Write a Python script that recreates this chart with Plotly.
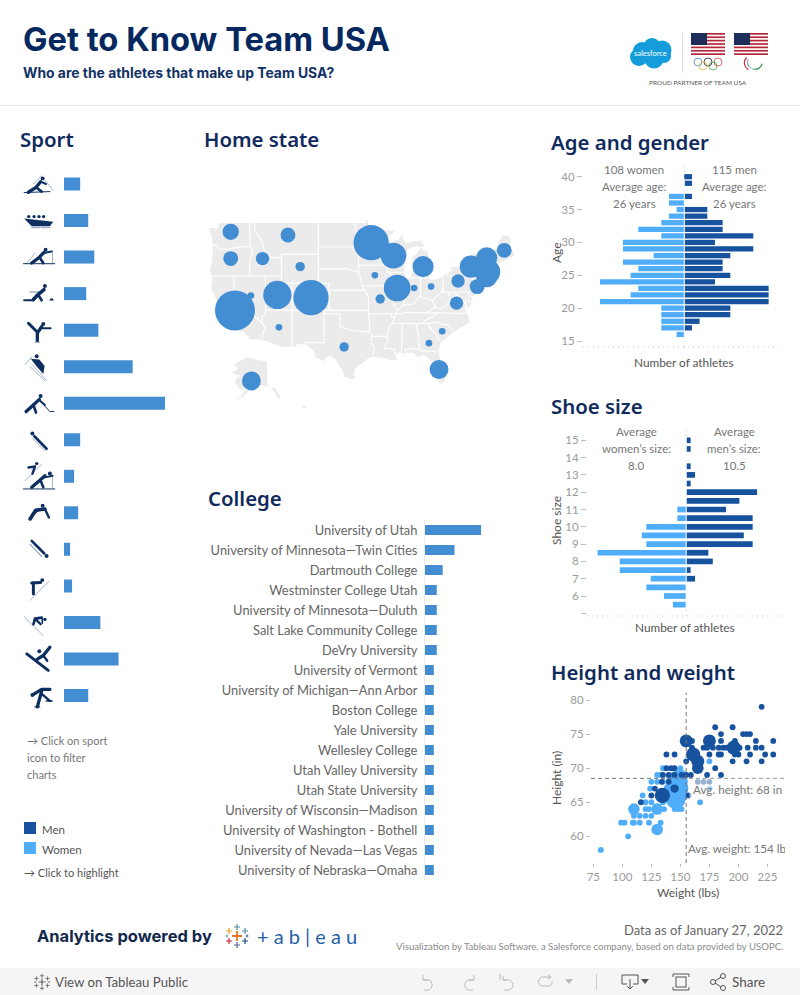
import base64
import math
import numpy as np
import plotly.graph_objects as go

W, H = 800, 995

# ---------- DATA ----------
SPORTS = ["Biathlon", "Bobsled", "Cross-country", "Curling", "Figure skating", "Alpine skiing", "Ice hockey",
          "Luge", "Nordic combined", "Short track", "Skeleton", "Ski jumping", "Freestyle skiing", "Snowboarding",
          "Speed skating"]
SPORT_COUNTS = [8, 12, 15, 11, 17, 34, 50, 8, 5, 7, 3, 4, 18, 27, 12]

COLLEGES = ["University of Utah", "University of Minnesota—Twin Cities", "Dartmouth College",
            "Westminster College Utah", "University of Minnesota—Duluth", "Salt Lake Community College",
            "DeVry University", "University of Vermont", "University of Michigan—Ann Arbor", "Boston College",
            "Yale University", "Wellesley College", "Utah Valley University", "Utah State University",
            "University of Wisconsin—Madison", "University of Washington - Bothell",
            "University of Nevada—Las Vegas", "University of Nebraska—Omaha"]
COLLEGE_COUNTS = [19, 10, 6, 4, 4, 4, 4, 3, 3, 3, 3, 3, 3, 3, 3, 3, 3, 3]

AGES = [40, 39, 37, 36, 35, 34, 33, 32, 31, 30, 29, 28, 27, 26, 25, 24, 23, 22, 21, 20, 19, 18, 17, 16]
AGE_MEN = [1, 1, 1, 0, 3, 3, 5, 5, 9, 4, 9, 6, 5, 5, 6, 4, 11, 11, 11, 6, 6, 2, 1, 0]
AGE_WOMEN = [0, 0, 2, 2, 1, 2, 3, 6, 3, 8, 8, 4, 8, 6, 7, 11, 6, 7, 11, 3, 3, 3, 3, 1]
AGE_TICKS = [15, 20, 25, 30, 35, 40]

SHOES = [15, 14.5, 13.5, 13, 12.5, 12, 11.5, 11, 10.5, 10, 9.5, 9, 8.5, 8, 7.5, 7, 6.5, 6, 5.5]
SHOE_MEN = [1, 1, 1, 2, 1, 16, 12, 9, 15, 15, 13, 15, 5, 6, 1, 2, 0, 0, 0]
SHOE_WOMEN = [0, 0, 0, 0, 0, 0, 0, 2, 2, 9, 10, 9, 20, 15, 15, 8, 9, 5, 3]
SHOE_TICKS = [5, 6, 7, 8, 9, 10, 11, 12, 13, 14, 15]
SHOE_TICKTEXT = ["", "6", "7", "8", "9", "10", "11", "12", "13", "14", "15"]

WOMEN_W = [81.5, 105, 130, 99, 102, 109, 110, 115, 123, 133, 110, 115, 120, 125, 110, 120, 123, 130, 136, 145, 148, 151,
           120, 125, 135, 142, 167, 117.5, 124, 141, 125, 130, 135, 130, 133, 135, 150, 175, 175, 147, 149, 146, 143,
           150, 152, 140]
WOMEN_H = [58, 60, 61, 62, 62, 62, 62, 62, 62, 62, 63, 63, 63, 63, 64, 64, 64, 64, 64, 64, 64, 64,
           65, 65, 65, 65, 65, 66, 67, 67, 68, 68, 68, 69, 69, 70, 70, 71, 67, 68, 67, 65.5, 66,
           69, 66, 67]
WOMEN_N = [1, 1, 4, 1, 1, 1, 1, 1, 1, 1, 1, 1, 1, 1, 4, 1, 1, 4, 1, 1, 1, 1,
           1, 1, 1, 1, 1, 1, 1, 1, 1, 1, 1, 1, 1, 1, 1, 1, 1, 14, 10, 12, 6,
           4, 3, 3]

MEN_W = [220, 180, 195, 185, 204, 207, 210, 155, 175, 160, 185, 197, 215, 230, 160, 170, 173, 178, 183, 187, 190, 196,
         201, 208, 215, 220, 138, 145, 161, 175, 183, 185, 197, 200, 210, 223, 230, 155, 165, 195, 207, 220, 165, 138,
         142, 145, 180, 135, 140, 145, 151, 155, 159, 173, 185, 134, 140, 165, 170, 175, 128, 145, 134.5, 125, 157, 116]
MEN_H = [79, 76, 76, 75, 75, 75, 75, 74, 74, 74, 74, 74, 74, 74, 73, 73, 73, 73, 73, 73, 73, 73,
         73, 73, 73, 73, 72, 72, 72, 72, 72, 72, 72, 72, 72, 72, 72, 71, 71, 71, 71, 71, 70, 70,
         70, 70, 70, 69, 69, 69, 69, 69, 69, 69, 69, 68, 68, 68, 68, 68, 67, 67, 66, 66, 66, 65]
MEN_N = [1, 1, 1, 1, 1, 1, 1, 5, 5, 1, 1, 1, 1, 1, 1, 1, 1, 1, 1, 1, 1, 6,
         1, 1, 1, 1, 1, 1, 6, 1, 1, 1, 1, 1, 1, 1, 1, 1, 5, 1, 1, 1, 4, 1,
         1, 1, 1, 1, 1, 1, 1, 1, 1, 1, 1, 1, 1, 1, 1, 1, 1, 2, 7, 1, 1, 1]

WEIGHT_TICKS = [75, 100, 125, 150, 175, 200, 225]
HEIGHT_TICKS = [60, 65, 70, 75, 80]
AVG_WEIGHT = 155
AVG_HEIGHT = 68.5

STATES = ["WA", "OR", "ID", "MT", "WY", "CA", "NV", "UT", "CO", "AZ", "TX", "MN", "WI", "MI", "IA", "IL", "MO", "IN",
          "OH", "PA", "VA", "NY", "VT", "MA", "CT", "NJ", "ME", "SC", "GA", "FL"]
STATE_LON = [-120.6, -120.6, -114.6, -109.8, -107.5, -119.8, -116.8, -111.8, -105.45, -111.5, -99.2, -94.1, -89.9, -84.3,
             -93.4, -89.2, -92.4, -86.0, -82.8, -77.7, -78.0, -75.3, -72.3, -72.1, -72.3, -74.1, -69.0, -80.7, -83.2, -81.3]
STATE_LAT = [47.9, 44.4, 44.4, 47.5, 43.3, 37.0, 39.2, 39.3, 38.9, 34.4, 31.3, 46.5, 44.8, 43.3,
             42.1, 40.3, 38.7, 40.3, 40.5, 41.3, 38.1, 43.3, 44.5, 42.6, 41.9, 40.5, 45.5, 33.8, 31.9, 27.6]
STATE_COUNTS = [6, 5, 4, 5, 2, 36, 1, 18, 28, 1, 2, 28, 15, 10, 1, 16, 2, 1, 1, 4, 4, 11, 10, 14, 10, 5, 5, 1, 1, 8]
AK_LON, AK_LAT, AK_COUNT = [-153], [62], [8]

US_OUTLINE = [(-124.7,48.4),(-123.0,48.3),(-122.8,49.0),(-95.15,49.0),(-95.15,49.38),(-94.8,49.3),(-94.6,48.7),(-93.0,48.6),
 (-91.5,48.1),(-89.6,48.0),(-90.8,47.3),(-92.1,46.75),(-90.8,46.9),(-90.4,46.55),(-89.0,46.9),(-88.4,47.4),(-87.9,47.47),
 (-88.2,46.95),(-87.4,46.5),(-86.0,46.65),(-85.0,46.75),(-84.4,46.5),(-84.1,46.0),(-84.7,45.95),(-85.5,46.08),(-86.5,45.85),
 (-87.0,45.7),(-87.6,45.1),(-88.0,44.55),(-87.3,45.2),(-87.5,44.3),(-87.9,43.0),(-87.8,42.3),(-87.5,41.7),(-87.0,41.67),
 (-86.5,42.1),(-86.2,43.0),(-86.5,43.7),(-86.2,44.7),(-85.6,45.0),(-85.0,45.6),(-84.75,45.78),(-83.4,45.2),(-83.3,44.3),
 (-83.9,43.7),(-83.0,44.05),(-82.45,43.0),(-83.1,42.2),(-83.4,41.7),(-82.7,41.5),(-81.7,41.5),(-80.5,41.98),(-79.0,42.7),
 (-78.9,42.9),(-79.05,43.27),(-77.5,43.27),(-76.4,43.5),(-76.2,44.0),(-75.3,44.85),(-74.7,45.0),(-71.5,45.0),(-71.3,45.3),
 (-70.4,45.75),(-70.0,46.7),(-69.2,47.45),(-68.3,47.35),(-67.8,47.05),(-67.8,45.7),(-67.0,44.85),(-68.5,44.3),(-70.0,43.75),
 (-70.7,43.05),(-70.8,42.6),(-71.0,42.3),(-70.6,41.95),(-70.0,41.8),(-70.0,41.6),(-71.2,41.5),(-72.0,41.3),(-73.6,41.0),
 (-72.0,41.05),(-73.9,40.6),(-74.0,40.4),(-74.1,39.7),(-74.9,38.95),(-75.5,39.5),(-75.1,38.8),(-75.2,38.0),(-75.95,37.15),
 (-76.1,38.0),(-76.4,39.1),(-76.4,38.0),(-76.3,37.0),(-75.95,36.6),(-75.5,35.25),(-76.5,34.7),(-77.9,33.9),(-79.0,33.4),
 (-80.0,32.6),(-81.0,32.0),(-81.4,30.7),(-81.3,29.9),(-80.6,28.4),(-80.0,26.8),(-80.2,25.6),(-80.9,25.15),(-81.7,25.9),
 (-82.2,26.8),(-82.75,27.8),(-82.7,28.8),(-83.6,29.7),(-84.2,30.05),(-85.3,29.7),(-86.2,30.4),(-87.5,30.3),(-88.0,30.25),
 (-88.9,30.4),(-89.6,30.2),(-89.2,29.2),(-90.2,29.1),(-91.3,29.4),(-92.3,29.55),(-93.8,29.7),(-94.7,29.4),(-95.9,28.6),
 (-97.1,27.8),(-97.4,26.9),(-97.15,25.95),(-98.2,26.05),(-99.1,26.4),(-99.5,27.5),(-100.3,28.3),(-100.8,29.25),(-101.5,29.75),
 (-102.4,29.8),(-103.1,28.98),(-104.5,29.6),(-104.9,30.6),(-106.5,31.75),(-108.2,31.78),(-108.2,31.33),(-111.07,31.33),
 (-114.8,32.5),(-117.12,32.53),(-117.3,33.1),(-118.4,33.75),(-120.5,34.45),(-120.7,35.2),(-121.9,36.6),(-122.5,37.6),
 (-123.0,38.0),(-123.8,39.3),(-124.35,40.3),(-124.1,41.0),(-124.2,42.0),(-124.5,42.85),(-124.1,44.0),(-123.95,46.2),
 (-124.1,46.9),(-124.7,48.4)]

STATE_BORDERS = [
 [(-124,46.25),(-123.2,46.15),(-122.8,45.65),(-121.2,45.65),(-119.3,45.93),(-116.92,46.0)],
 [(-117.03,49),(-117.04,46.4),(-116.92,46),(-116.5,45.5),(-116.9,44.2),(-117.03,43.8),(-117.03,42)],
 [(-124.2,42),(-111.05,42)],
 [(-120,42),(-120,39),(-114.6,35),(-114.15,34.3),(-114.5,33.5),(-114.72,32.72)],
 [(-114.05,42),(-114.05,36.2),(-114.75,36.1),(-114.6,35)],
 [(-114.05,37),(-94.62,37)],
 [(-111.05,42),(-111.05,41),(-109.05,41),(-109.05,31.33)],
 [(-116.05,49),(-116.05,48),(-114.7,46.7),(-114.35,45.5),(-113.5,45.1),(-113,44.5),(-111.5,44.55),(-111.05,44.5)],
 [(-111.05,45),(-111.05,42)],
 [(-111.05,45),(-104.05,45)],
 [(-104.05,49),(-104.05,41)],
 [(-109.05,41),(-102.05,41),(-102.05,37)],
 [(-102.05,40),(-95.3,40)],
 [(-104.05,43),(-98.5,43),(-97.9,42.8),(-96.45,42.5)],
 [(-104.05,45.94),(-96.56,45.94)],
 [(-103,37),(-103,32),(-106.6,32),(-106.5,31.75)],
 [(-103,36.5),(-100,36.5),(-100,34.55),(-99,34.2),(-97.5,33.9),(-96,33.75),(-94.5,33.65)],
 [(-94.62,37),(-94.62,36.5),(-94.43,35.4),(-94.48,33.65)],
 [(-94.05,33.55),(-94.05,32),(-93.55,31.2),(-93.8,29.7)],
 [(-94.05,33.0),(-91.15,33.0)],
 [(-97.2,49),(-96.6,46.3),(-96.56,45.94),(-96.45,45.3),(-96.45,42.5),(-96.1,41.7),(-95.85,40.7),(-95.3,40.0),(-94.62,39.1),(-94.62,37)],
 [(-96.45,43.5),(-91.22,43.5)],
 [(-95.77,40.58),(-91.7,40.6),(-91.42,40.38)],
 [(-92.1,46.75),(-92.3,46.1),(-92.9,45.6),(-92.75,44.75),(-91.22,43.5),(-91.1,42.7),(-90.64,42.5),(-90.15,41.8),(-91.05,41.2),
  (-91.42,40.38),(-91.5,40.0),(-90.7,39.0),(-90.2,38.7),(-89.5,37.3),(-89.15,37.0),(-89.5,36.5),(-89.7,36.0),(-90.1,35.1),
  (-90.6,34.7),(-91.15,33.0),(-91.0,32.4),(-91.6,31.0),(-89.75,31.0),(-89.8,30.65),(-89.6,30.2)],
 [(-90.64,42.5),(-87.8,42.5)],
 [(-90.4,46.55),(-88.1,45.9),(-87.6,45.1)],
 [(-87.53,41.7),(-87.53,39.3),(-88.05,37.8)],
 [(-89.15,37.0),(-88.05,37.8),(-87.1,37.8),(-86.0,38.0),(-85.4,38.7),(-84.8,39.1),(-84.2,38.8),(-83.0,38.7),(-82.6,38.4),
  (-81.7,39.2),(-80.8,39.7),(-80.52,40.64),(-80.52,41.98)],
 [(-84.8,39.1),(-84.8,41.7)],
 [(-87.0,41.76),(-84.8,41.76),(-83.45,41.73)],
 [(-79.76,42.27),(-79.76,42),(-75.35,42),(-74.7,41.36),(-75.1,41.0),(-75.1,40.6),(-74.75,40.2),(-75.5,39.7)],
 [(-74.7,41.36),(-73.9,41.0)],
 [(-80.52,40.64),(-80.52,39.72),(-75.78,39.72),(-75.7,38.45),(-75.05,38.45)],
 [(-79.48,39.72),(-79.48,39.2),(-78.4,39.6),(-77.75,39.3),(-77.1,38.8),(-76.3,38.0)],
 [(-82.6,38.4),(-81.95,37.5),(-81.2,37.25),(-80.3,37.5),(-79.3,38.4),(-78.4,39.15),(-77.75,39.3)],
 [(-83.68,36.6),(-81.95,37.5)],
 [(-89.5,36.5),(-88.05,36.5),(-88.05,36.68),(-83.68,36.6),(-75.9,36.55)],
 [(-90.1,35),(-84.32,35),(-84.05,35.4),(-82.6,36.0),(-81.68,36.6)],
 [(-84.32,35),(-83.1,35),(-82.3,35.2),(-81,35.1),(-80.8,34.82),(-79.65,34.8),(-78.55,33.85)],
 [(-83.1,35),(-83.35,34.7),(-81.9,33.3),(-81,32.1)],
 [(-88.2,35),(-88.4,31.9),(-88.4,30.3)],
 [(-85.6,35),(-85.15,32.8),(-85.0,31),(-84.85,30.7),(-82.2,30.55),(-82.05,30.35),(-81.5,30.75)],
 [(-87.6,31),(-85.0,31)],
 [(-87.6,31),(-87.5,30.3)],
 [(-94.62,36.5),(-90.15,36.5),(-90.38,36),(-89.7,36)],
 [(-73.35,45),(-73.4,43.6),(-73.27,42.75),(-73.5,42.05),(-73.5,41.3),(-73.65,41.0)],
 [(-73.27,42.73),(-71.3,42.7),(-70.8,42.87)],
 [(-71.5,45),(-72.05,44.3),(-72.45,43),(-72.46,42.73)],
 [(-71.05,45.3),(-70.97,43.35),(-70.7,43.05)],
 [(-73.5,42.05),(-71.8,42.02),(-71.38,42.02),(-71.2,41.5)],
 [(-71.8,42.02),(-71.85,41.3)],
]

ALASKA = [(-141,69.6),(-141,60.3),(-137.5,58.9),(-135.5,59.7),(-131,56),(-130.5,55),(-133,55.5),(-135.7,58),(-139.5,59.7),
 (-145,60.3),(-148,60.7),(-151.5,59.2),(-150.5,61.1),(-154,59),(-158,56.5),(-163,54.8),(-165,54.5),(-160,56.5),(-157.5,58.8),
 (-162,58.7),(-164.5,60.5),(-166,61.7),(-164.5,63),(-161,64),(-166,64.5),(-168,65.6),(-163,66.5),(-166.5,68.4),(-163,69.5),
 (-156.5,71.3),(-150,70.5),(-141,69.6)]
HAWAII = [(-155.9,20.2),(-155.1,19.9),(-154.9,19.5),(-155.7,18.95),(-156.0,19.7),(-155.9,20.2)]

# ---------- COLOURS ----------
NAVY = "#0f2a5c"
HEAD = "#05295f"
BAR = "#438dd3"
MEN = "#17529e"
WOMEN = "#4fadfa"
GREY = "#777777"
TICK = "#9b9b9b"
DARK = "#555555"
BODY = "Lato"
TITLE = "Noto Sans"

# ---------- HELPERS ----------
def px(x): return x / W
def py(y): return 1 - y / H
def dom_x(a, b): return [a / W, b / W]
def dom_y(top, bot): return [1 - bot / H, 1 - top / H]

def merc(lat):
    return math.degrees(math.log(math.tan(math.pi / 4 + math.radians(lat) / 2)))

annotations, shapes, images = [], [], []

def text(x, y, s, size=11, color=GREY, anchor="left", font=BODY, weight=None, angle=0, **kw):
    f = dict(size=size, color=color, family=font)
    if weight:
        f["weight"] = weight
    annotations.append(dict(x=px(x), y=py(y), xref="paper", yref="paper", text=s, showarrow=False, xanchor=anchor,
                            yanchor="middle", font=f, textangle=angle, align=anchor, borderpad=0, borderwidth=0, **kw))

def rect(x0, y0, x1, y1, color, layer="below"):
    shapes.append(dict(type="rect", xref="paper", yref="paper", x0=px(x0), x1=px(x1), y0=py(y0), y1=py(y1),
                       fillcolor=color, line=dict(width=0), layer=layer))

def image(svg, x, y, w, h):
    uri = "data:image/svg+xml;base64," + base64.b64encode(svg.encode()).decode()
    images.append(dict(source=uri, xref="paper", yref="paper", x=px(x), y=py(y), sizex=w / W, sizey=h / H,
                       xanchor="left", yanchor="top", sizing="stretch", layer="above"))

ICON_DARK, ICON_PALE = "#0c2f60", "#a3b1c6"

def icon(prims):
    out = ['<svg xmlns="http://www.w3.org/2000/svg" viewBox="0 0 100 100">']
    for p in prims:
        if p[0] == "c":
            out.append(f'<circle cx="{p[1]}" cy="{p[2]}" r="{p[3]}" fill="{ICON_DARK}"/>')
        elif p[0] == "p":
            pts = " ".join(f"{a},{b}" for a, b in p[1])
            out.append(f'<polygon points="{pts}" fill="{ICON_DARK}"/>')
        else:
            col = ICON_DARK if p[0] == "t" else ICON_PALE
            pts = " ".join(f"{a},{b}" for a, b in p[2])
            out.append(f'<polyline points="{pts}" fill="none" stroke="{col}" stroke-width="{p[1]}" '
                       'stroke-linejoin="round" stroke-linecap="round"/>')
    out.append("</svg>")
    return "".join(out)

ICONS = [
 [("s",3,[(58,25),(33,50)]),("s",3,[(70,40),(93,70)]),("c",61,33,6),("t",10,[(55,43),(41,60),(18,75)]),("t",8,[(41,60),(58,73)]),("t",6,[(55,43),(71,50)]),("t",3,[(5,76),(83,73)])],
 [("c",19,38,5),("c",35,38,5),("c",50,38,5),("c",64,38,5),("p",[(5,44),(93,54),(83,67),(28,67)]),("s",4,[(28,71),(53,71)]),("s",4,[(58,71),(83,71)])],
 [("s",3,[(38,38),(13,68)]),("s",3,[(91,30),(91,68)]),("c",70,28,6),("t",10,[(65,36),(48,53),(28,68)]),("t",8,[(51,50),(63,68)]),("t",6,[(63,38),(88,33)]),("t",3,[(3,70),(98,70)])],
 [("s",4,[(23,45),(58,45)]),("c",68,27,6),("t",11,[(65,38),(48,52),(33,68)]),("t",8,[(48,54),(58,70)]),("t",6,[(5,70),(33,70)]),("p",[(82,71),(84,65),(92,65),(95,71)])],
 [("c",63,31,6),("t",6,[(53,44),(85,44)]),("t",9,[(18,29),(43,54)]),("t",10,[(58,39),(45,59),(45,84)]),("s",4,[(38,87),(51,87)])],
 [("s",3,[(8,43),(28,20)]),("s",3,[(28,43),(73,91)]),("s",3,[(23,50),(68,93)]),("c",43,18,6),("p",[(25,26),(51,28),(67,48),(63,72),(41,47)])],
 [("c",55,28,6),("t",10,[(51,38),(33,55),(11,75)]),("t",8,[(33,55),(41,78)]),("t",6,[(53,42),(68,55)]),("t",3,[(58,48),(83,75),(95,75)])],
 [("c",30,31,6),("t",8,[(36,39),(73,77)]),("s",3,[(30,45),(68,83)])],
 [("s",3,[(8,63),(58,13)]),("s",3,[(91,48),(91,83)]),("c",43,11,5),("t",7,[(18,23),(38,20),(30,42)]),("c",83,41,6),("t",10,[(68,48),(51,63),(28,83)]),("t",8,[(55,63),(63,83)]),("t",6,[(68,53),(91,48)]),("t",3,[(3,88),(98,88)])],
 [("c",61,28,6),("t",11,[(68,38),(40,42),(23,68)]),("t",7,[(68,38),(80,64)]),("t",8,[(48,40),(30,55)])],
 [("c",73,70,6),("t",8,[(28,24),(66,62)]),("s",4,[(23,34),(58,71)])],
 [("s",3,[(80,36),(23,93)]),("c",60,32,6),("t",9,[(28,41),(55,39)]),("t",9,[(33,41),(33,74)])],
 [("s",3,[(5,32),(63,90)]),("c",68,40,5),("t",8,[(58,35),(38,38),(33,55)]),("t",7,[(38,38),(55,55)]),("t",5,[(60,36),(60,52)])],
 [("t",9,[(13,34),(78,84)]),("c",51,26,6),("t",10,[(83,14),(63,39),(45,50)]),("t",7,[(63,39),(75,55)])],
 [("c",30,48,6),("t",10,[(33,46),(58,31),(83,31)]),("t",10,[(58,36),(45,84)]),("t",7,[(60,46),(83,66)]),("t",4,[(38,84),(52,84)]),("t",4,[(72,66),(90,66)])],
]

FLAG = ['<svg xmlns="http://www.w3.org/2000/svg" viewBox="0 0 34 22">']
for i in range(7):
    FLAG.append(f'<rect x="0" y="{i*22/6.5}" width="34" height="{22/13}" fill="#b5283c"/>')
FLAG.append('<rect x="0" y="0" width="16" height="12" fill="#1e2e5a"/></svg>')
FLAG = "".join(FLAG)
RINGS = ('<svg xmlns="http://www.w3.org/2000/svg" viewBox="0 0 60 28" fill="none" stroke-width="1.6">'
         '<circle cx="10" cy="10" r="8" stroke="#3b8dd0"/><circle cx="30" cy="10" r="8" stroke="#222"/>'
         '<circle cx="50" cy="10" r="8" stroke="#d9404a"/><circle cx="20" cy="18" r="8" stroke="#f0b840"/>'
         '<circle cx="40" cy="18" r="8" stroke="#4aa55c"/></svg>')
AGITOS = ('<svg xmlns="http://www.w3.org/2000/svg" viewBox="0 0 44 28" fill="none" stroke-width="2.4" stroke-linecap="round">'
          '<path d="M11 2 C4 8 6 20 14 25" stroke="#c8323f"/><path d="M14 6 C11 14 15 20 20 22" stroke="#2a62a8" stroke-width="1.6"/>'
          '<path d="M24 24 C32 26 40 22 42 14" stroke="#3f9e57"/></svg>')
CLOUD = ('<svg xmlns="http://www.w3.org/2000/svg" viewBox="0 0 44 33" fill="#149dda">'
         '<circle cx="14" cy="14" r="9"/><circle cx="24" cy="9" r="8"/><circle cx="34" cy="13" r="9.5"/>'
         '<circle cx="26" cy="22" r="9.5"/><circle cx="11" cy="20" r="9"/><circle cx="36" cy="19" r="7"/></svg>')
PLUS = ['<svg xmlns="http://www.w3.org/2000/svg" viewBox="0 0 26 26" stroke-linecap="butt">']
for cx, cy, r, col, wd in [(13,13,5,"#e8762c",1.8),(13,4,3,"#5b879b",1.2),(13,22,3,"#5c6692",1.2),(5,8,3,"#f1a13a",1.2),
                           (21,8,3,"#59879b",1.2),(5,18,3,"#c72035",1.2),(21,18,3,"#1f447a",1.2),(3,13,1.5,"#5b879b",.8),(23,13,1.5,"#1f447a",.8)]:
    PLUS.append(f'<path d="M{cx-r} {cy}H{cx+r}M{cx} {cy-r}V{cy+r}" stroke="{col}" stroke-width="{wd}"/>')
PLUS.append("</svg>")
PLUS = "".join(PLUS)
TOOL_PLUS = PLUS.replace('"#e8762c"', '"#666"').replace('"#5b879b"', '"#666"').replace('"#5c6692"', '"#666"').replace(
    '"#f1a13a"', '"#666"').replace('"#59879b"', '"#666"').replace('"#c72035"', '"#666"').replace('"#1f447a"', '"#666"')
def stroke_svg(w, h, body, col="#555", sw=1):
    return (f'<svg xmlns="http://www.w3.org/2000/svg" viewBox="0 0 {w} {h}" fill="none" stroke="{col}" '
            f'stroke-width="{sw}">{body}</svg>')
UNDO = stroke_svg(18, 18, '<path d="M3 2V7H8"/><path d="M3 7H9A5.5 5.5 0 0 1 9 17H4"/>', "#bbb")
REDO = stroke_svg(18, 18, '<path d="M15 2V7H10"/><path d="M15 7H9A5.5 5.5 0 0 0 9 17H14"/>', "#bbb")
REVERT = stroke_svg(18, 18, '<path d="M2 1V7"/><path d="M5 3V7H9"/><path d="M5 7H10A5 5 0 0 1 10 17H6"/>', "#bbb")
REFRESH = stroke_svg(18, 18, '<path d="M13 4H6A4 4 0 0 0 6 13H12A4 4 0 0 0 15 8"/><path d="M11 2L14 4L11 6"/>', "#bbb")
DOWNLOAD = stroke_svg(18, 18, '<path d="M1 2H17V11H12M6 11H1V2"/><path d="M9 6V16M6 13L9 16L12 13"/>')
FULL = stroke_svg(18, 18, '<path d="M1 4V1H17V4M1 14V17H17V14"/><rect x="4" y="4" width="10" height="10"/>')
SHARE = stroke_svg(18, 18, '<circle cx="14" cy="3" r="2.5"/><circle cx="14" cy="15" r="2.5"/><circle cx="4" cy="9" r="2.5"/>'
                           '<path d="M6 8L12 4M6 10L12 14"/>')
CARET = '<svg xmlns="http://www.w3.org/2000/svg" viewBox="0 0 10 6"><path d="M0 0H10L5 6Z" fill="{}"/></svg>'

# ---------- DECORATION ----------
rect(0, 105, 800, 106, "#e6e6e6")
rect(0, 968, 800, 995, "#f5f5f5")
rect(682, 33, 683, 73, "#dddddd")
rect(596, 974, 597, 990, "#cccccc")

text(23, 39, "Get to Know Team USA", 32.7, HEAD, font="Inter", weight=700)
text(23, 73, "Who are the athletes that make up Team USA?", 13.9, "#123265", font="Inter", weight=700)
text(697.5, 83, "PROUD PARTNER OF TEAM USA", 6.5, "#555555", anchor="center")
text(650, 54, "salesforce", 7.5, "#ffffff", anchor="center")
image(CLOUD, 628, 37, 44, 33)
image(FLAG, 691, 33, 34, 22)
image(FLAG, 734, 33, 34, 22)
image(RINGS, 693, 57, 30, 14)
image(AGITOS, 741, 57, 22, 14)

for title, x, y in [("Sport", 20, 139), ("Home state", 204, 139), ("Age and gender", 551, 142), ("Shoe size", 551, 406),
                    ("Height and weight", 551, 672), ("College", 208, 498)]:
    text(x, y, title, 20.4, NAVY, font=TITLE, weight=600)

for i, prim in enumerate(ICONS):
    image(icon(prim), 39 - 16.5, 184 + 36.55 * i - 16.5, 33, 33)

for i, line in enumerate(["→ Click on sport", "icon to filter", "charts"]):
    text(27, 740 + 17 * i, line, 11, GREY)
rect(24, 822, 36, 834, MEN)
rect(24, 842, 36, 854, WOMEN)
text(42, 829, "Men", 11.5, DARK)
text(42, 849, "Women", 11.5, DARK)
text(24, 872, "→ Click to highlight", 11, DARK)

for i, line in enumerate(["108 women", "Average age:", "26 years"]):
    text(634, 169 + 17 * i, line, 11.5, GREY, anchor="center")
for i, line in enumerate(["115 men", "Average age:", "26 years"]):
    text(734, 169 + 17 * i, line, 11.5, GREY, anchor="center")
for i, line in enumerate(["Average", "women’s size:", "8.0"]):
    text(636, 431 + 17 * i, line, 11.5, GREY, anchor="center")
for i, line in enumerate(["Average", "men’s size:", "10.5"]):
    text(734, 431 + 17 * i, line, 11.5, GREY, anchor="center")

text(684, 362, "Number of athletes", 11.8, DARK, anchor="center")
text(685, 627, "Number of athletes", 11.8, DARK, anchor="center")
text(688, 892, "Weight (lbs)", 12, DARK, anchor="center")
text(556, 253, "Age", 12, DARK, anchor="center", angle=-90)
text(556, 521, "Shoe size", 12, DARK, anchor="center", angle=-90)
text(556, 778, "Height (in)", 12, DARK, anchor="center", angle=-90)

text(37, 936, "Analytics powered by", 16.5, "#12284c", font="Inter", weight=700)
image(PLUS, 224, 923, 26, 26)
text(257, 936, "+ a b | e a u", 20, "#1f5fa8", font="Lato")
text(783, 930, "Data as of January 27, 2022", 13, "#666666", anchor="right")
text(783, 946, "Visualization by Tableau Software, a Salesforce company, based on data provided by USOPC.", 9.6, "#8a8a8a", anchor="right")

image(TOOL_PLUS, 33, 973, 18, 18)
text(55, 982, "View on Tableau Public", 13.2, "#555555")
for svg, x, s in [(UNDO, 420, 18), (REDO, 459, 18), (REVERT, 498, 18), (REFRESH, 537, 18), (DOWNLOAD, 621, 18), (FULL, 672, 18), (SHARE, 709, 18)]:
    image(svg, x, 973, s, s)
image(CARET.format("#bbbbbb"), 565, 979, 8, 5)
image(CARET.format("#555555"), 641, 979, 8, 5)
text(732, 982, "Share", 13.5, "#555555")

# ---------- FIGURE ----------
fig = go.Figure()

fig.add_trace(go.Bar(x=SPORT_COUNTS, y=SPORTS, orientation="h", marker=dict(color=BAR, line=dict(width=0)),
                     xaxis="x", yaxis="y", width=13 / 36.55, showlegend=False))

fig.add_trace(go.Bar(x=COLLEGE_COUNTS, y=COLLEGES, orientation="h", marker=dict(color=BAR, line=dict(width=0)),
                     xaxis="x3", yaxis="y3", width=0.5, showlegend=False))

K, X0, Y0 = 5.3, 209, 223
MAP_L, MAP_R, MAP_T, MAP_B = 198, 530, 215, 425
MT0 = merc(49)
lon_of_px = lambda p: -124.7 + (p - X0) / K
my_of_px = lambda p: MT0 - (p - Y0) / K
def ak_x(lon): return lon_of_px(267 + (lon + 141) * 1.3)
def ak_y(lat): return my_of_px(358 + (71 - lat) * 2.55)
def hi_x(lon): return lon_of_px(304 + (lon + 155.5) * 3)
def hi_y(lat): return my_of_px(407 + (19.6 - lat) * 3)

lons = [p[0] for p in US_OUTLINE]
lats = [merc(p[1]) for p in US_OUTLINE]
LAND = "#ebebeb"
fig.add_trace(go.Scatter(x=lons, y=lats, mode="lines", fill="toself", fillcolor=LAND, line=dict(width=0),
                         xaxis="x2", yaxis="y2", hoverinfo="skip", showlegend=False))
fig.add_trace(go.Scatter(x=[ak_x(p[0]) for p in ALASKA], y=[ak_y(p[1]) for p in ALASKA], mode="lines", fill="toself",
                         fillcolor=LAND, line=dict(width=0), xaxis="x2", yaxis="y2", hoverinfo="skip", showlegend=False))
fig.add_trace(go.Scatter(x=[hi_x(p[0]) for p in HAWAII], y=[hi_y(p[1]) for p in HAWAII], mode="lines", fill="toself",
                         fillcolor=LAND, line=dict(width=0), xaxis="x2", yaxis="y2", hoverinfo="skip", showlegend=False))
bx, by = [], []
for seg in STATE_BORDERS:
    bx += [p[0] for p in seg] + [None]
    by += [merc(p[1]) for p in seg] + [None]
fig.add_trace(go.Scatter(x=bx, y=by, mode="lines", line=dict(color="white", width=1.1), xaxis="x2", yaxis="y2",
                         hoverinfo="skip", showlegend=False))
BUB_REF = 0.045
fig.add_trace(go.Scatter(x=STATE_LON + [ak_x(v) for v in AK_LON], y=[merc(v) for v in STATE_LAT] + [ak_y(v) for v in AK_LAT],
                         mode="markers", text=STATES + ["AK"],
                         marker=dict(size=STATE_COUNTS + AK_COUNT, sizemode="area", sizeref=BUB_REF, color=BAR, line=dict(width=0), opacity=1),
                         xaxis="x2", yaxis="y2", showlegend=False))

fig.add_trace(go.Bar(x=[-v for v in AGE_WOMEN], y=AGES, orientation="h", marker=dict(color=WOMEN, line=dict(width=0)),
                     width=0.8, xaxis="x4", yaxis="y4", showlegend=False))
fig.add_trace(go.Bar(x=AGE_MEN, y=AGES, orientation="h", marker=dict(color=MEN, line=dict(width=0)),
                     width=0.8, xaxis="x4", yaxis="y4", showlegend=False))

fig.add_trace(go.Bar(x=[-v for v in SHOE_WOMEN], y=SHOES, orientation="h", marker=dict(color=WOMEN, line=dict(width=0)),
                     width=0.33, xaxis="x5", yaxis="y5", showlegend=False))
fig.add_trace(go.Bar(x=SHOE_MEN, y=SHOES, orientation="h", marker=dict(color=MEN, line=dict(width=0)),
                     width=0.33, xaxis="x5", yaxis="y5", showlegend=False))

SC_REF = 0.5 / (2.9 ** 2)
fig.add_trace(go.Scatter(x=WOMEN_W, y=WOMEN_H, mode="markers", xaxis="x6", yaxis="y6", showlegend=False,
                         marker=dict(size=WOMEN_N, sizemode="area", sizeref=SC_REF, color=WOMEN, line=dict(width=0), opacity=1)))
fig.add_trace(go.Scatter(x=MEN_W, y=MEN_H, mode="markers", xaxis="x6", yaxis="y6", showlegend=False,
                         marker=dict(size=MEN_N, sizemode="area", sizeref=SC_REF, color=MEN, line=dict(width=0), opacity=1)))
fig.add_trace(go.Scatter(x=[AVG_WEIGHT + 1.5], y=[58], mode="text", text=["Avg. weight: 154 lb"], textposition="middle right",
                         textfont=dict(size=11.7, color=GREY, family=BODY), xaxis="x6", yaxis="y6", cliponaxis=True,
                         showlegend=False, hoverinfo="skip"))

SX = 1.161
AGE_U, SHOE_U = 7.667, 4.43
AGE_C, SHOE_C = 684.3, 686.2

def blank(**kw):
    d = dict(showgrid=False, zeroline=False, showticklabels=False, ticks="", showline=False, fixedrange=True)
    d.update(kw)
    return d

tick_font = dict(size=11.5, color=TICK, family=BODY)
ytick = dict(showgrid=False, zeroline=False, showline=False, ticks="outside", ticklen=5, tickwidth=1, tickcolor="#bbbbbb",
             tickfont=tick_font, fixedrange=True)

layout = dict(
    width=W, height=H, margin=dict(l=0, r=0, t=0, b=0, pad=0, autoexpand=False), paper_bgcolor="white", plot_bgcolor="rgba(0,0,0,0)",
    barmode="overlay", showlegend=False, hovermode="closest",
    xaxis=blank(domain=dom_x(64, 170), range=[0, 106 / 2.02], anchor="y"),
    yaxis=blank(domain=dom_y(165.75, 713.75), autorange=False, range=[14.5, -0.5], type="category", categoryorder="array",
                categoryarray=SPORTS, anchor="x"),
    xaxis2=blank(domain=dom_x(MAP_L, MAP_R), range=[lon_of_px(MAP_L), lon_of_px(MAP_R)], anchor="y2"),
    yaxis2=blank(domain=dom_y(MAP_T, MAP_B), range=[my_of_px(MAP_B), my_of_px(MAP_T)], anchor="x2"),
    xaxis3=blank(domain=dom_x(425, 495), range=[0, 70 / 2.95], anchor="y3"),
    yaxis3=blank(domain=dom_y(520, 880), range=[17.5, -0.5], type="category", categoryorder="array", categoryarray=COLLEGES,
                 showticklabels=True, tickfont=dict(size=12.9, color="#666666", family=BODY), ticklabelstandoff=4,
                 showline=True, linecolor="#eeeeee", linewidth=1, anchor="x3", tickmode="linear"),
    xaxis4=blank(domain=dom_x(583, 782), range=[(583 - AGE_C) / AGE_U, (782 - AGE_C) / AGE_U], anchor="y4"),
    yaxis4=dict(ytick, domain=dom_y(162, 347), range=[15 - (347 - 341) / 6.57, 40 + (176.7 - 162) / 6.57],
                tickmode="array", tickvals=AGE_TICKS, ticktext=[str(v) for v in AGE_TICKS], anchor="x4"),
    xaxis5=blank(domain=dom_x(587, 783), range=[(587 - SHOE_C) / SHOE_U, (783 - SHOE_C) / SHOE_U], anchor="y5"),
    yaxis5=dict(ytick, domain=dom_y(428, 616), range=[5 - (616 - 613.3) / 17.3, 15 + (440.3 - 428) / 17.3],
                tickmode="array", tickvals=SHOE_TICKS, ticktext=SHOE_TICKTEXT, anchor="x5"),
    xaxis6=dict(domain=dom_x(591, 785), range=[75 + (591 - 593.3) / SX, 75 + (785 - 593.3) / SX], showgrid=False, zeroline=False,
                showline=False, ticks="outside", ticklen=3, tickcolor="#bbbbbb", tickfont=tick_font, tickmode="array",
                tickvals=WEIGHT_TICKS, ticktext=[str(v) for v in WEIGHT_TICKS], anchor="y6", fixedrange=True),
    yaxis6=dict(ytick, domain=dom_y(692.7, 863), range=[60 - (863 - 836.3) / 6.82, 80 + (700 - 692.7) / 6.82],
                tickmode="array", tickvals=HEIGHT_TICKS, ticktext=[str(v) for v in HEIGHT_TICKS], anchor="x6", ticklen=4),
)

DOT = dict(color="#c4c4c4", width=1, dash="1px,4px")
for n in ("4", "5"):
    shapes.append(dict(type="line", xref=f"x{n} domain", yref=f"y{n} domain", x0=0, x1=1, y0=0, y1=0, line=DOT, layer="below"))
    shapes.append(dict(type="line", xref=f"x{n}", yref=f"y{n} domain", x0=0, x1=0, y0=0, y1=1, line=DOT, layer="below"))
shapes.append(dict(type="line", xref="x4", yref="y4", x0=0, x1=0, y0=15.5, y1=39.5, line=dict(color="white", width=1), layer="above"))
shapes.append(dict(type="line", xref="x5", yref="y5", x0=0, x1=0, y0=5.3, y1=15.2, line=dict(color="white", width=1), layer="above"))
shapes.append(dict(type="line", xref="x6", yref="y6 domain", x0=AVG_WEIGHT, x1=AVG_WEIGHT, y0=0, y1=1,
                   line=dict(color="#777777", width=1, dash="4px,3px"), layer="above"))
shapes.append(dict(type="line", xref="x6 domain", yref="y6", x0=0, x1=1, y0=AVG_HEIGHT, y1=AVG_HEIGHT,
                   line=dict(color="#777777", width=1, dash="4px,3px"), layer="above"))

annotations.append(dict(x=AVG_WEIGHT + 2.5, y=66.9, xref="x6", yref="y6", text="Avg. height: 68 in", showarrow=False, xanchor="left",
                        yanchor="middle", font=dict(size=11.7, color=GREY, family=BODY), bgcolor="rgba(255,255,255,0.55)",
                        borderpad=3))

fig.update_layout(**layout, annotations=annotations, shapes=shapes, images=images)
fig.write_html("out.html", config=dict(displayModeBar=False),
               post_script="document.body.style.margin='0';document.documentElement.style.overflow='hidden';")
